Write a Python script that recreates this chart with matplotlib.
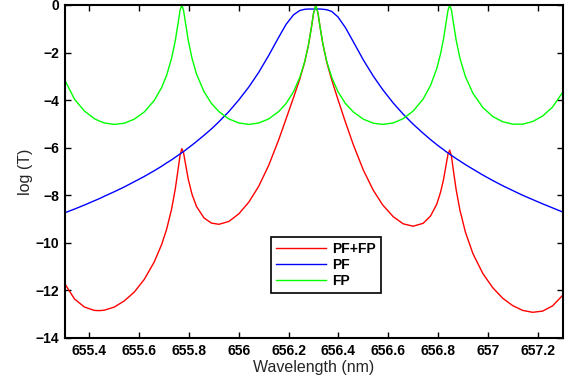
import matplotlib
matplotlib.use("Agg")
import matplotlib.pyplot as plt
from matplotlib.ticker import FixedLocator, FuncFormatter

plt.rcParams['font.family'] = ['Liberation Sans', 'DejaVu Sans']

wavelength = [655.30, 655.34, 655.38, 655.42, 655.44, 655.46, 655.50, 655.54, 655.58, 655.62,
              655.66, 655.69, 655.71, 655.73, 655.745, 655.756, 655.764, 655.771, 655.778, 655.786,
              655.797, 655.812, 655.83, 655.86, 655.89, 655.92, 655.96, 656.00, 656.04, 656.08,
              656.12, 656.16, 656.19, 656.22, 656.245, 656.265, 656.28, 656.292, 656.30, 656.309,
              656.318, 656.326, 656.338, 656.353, 656.373, 656.398, 656.428, 656.46, 656.50, 656.54,
              656.578, 656.62, 656.66, 656.70, 656.74, 656.77, 656.795, 656.81, 656.822, 656.833,
              656.840, 656.847, 656.854, 656.862, 656.873, 656.888, 656.91, 656.94, 656.98, 657.02,
              657.06, 657.10, 657.14, 657.18, 657.22, 657.26, 657.30]

fp = [-3.13, -3.96, -4.46, -4.78, -4.88, -4.96, -5.02, -4.97, -4.80, -4.50,
      -4.02, -3.47, -2.96, -2.24, -1.49, -0.77, -0.22, 0.00, -0.22, -0.77,
      -1.49, -2.24, -2.90, -3.64, -4.14, -4.48, -4.79, -4.96, -5.02, -4.96,
      -4.79, -4.48, -4.14, -3.64, -3.04, -2.37, -1.66, -0.91, -0.35, 0.00,
      -0.35, -0.91, -1.66, -2.37, -3.04, -3.64, -4.14, -4.50, -4.80, -4.97,
      -5.02, -4.96, -4.78, -4.46, -3.96, -3.38, -2.67, -2.06, -1.43, -0.69,
      -0.22, 0.00, -0.22, -0.77, -1.49, -2.24, -3.01, -3.71, -4.31, -4.69,
      -4.91, -5.01, -5.01, -4.90, -4.67, -4.29, -3.68]

pf = [-8.74, -8.58, -8.41, -8.23, -8.14, -8.04, -7.85, -7.65, -7.43, -7.21,
      -6.97, -6.78, -6.64, -6.51, -6.40, -6.32, -6.26, -6.21, -6.16, -6.10,
      -6.01, -5.89, -5.74, -5.48, -5.21, -4.91, -4.48, -3.99, -3.45, -2.83,
      -2.12, -1.36, -0.81, -0.41, -0.23, -0.18, -0.17, -0.17, -0.17, -0.17,
      -0.17, -0.17, -0.18, -0.20, -0.27, -0.50, -0.95, -1.55, -2.31, -2.99,
      -3.56, -4.12, -4.59, -5.01, -5.39, -5.66, -5.87, -5.99, -6.08, -6.17,
      -6.22, -6.27, -6.32, -6.38, -6.46, -6.56, -6.71, -6.90, -7.15, -7.38,
      -7.60, -7.80, -8.00, -8.18, -8.36, -8.53, -8.70]

pf_fp = [-11.70, -12.36, -12.70, -12.84, -12.85, -12.83, -12.70, -12.44, -12.07, -11.54,
         -10.81, -10.07, -9.43, -8.58, -7.72, -6.92, -6.32, -6.04, -6.21, -6.69,
         -7.33, -7.96, -8.47, -8.95, -9.17, -9.22, -9.10, -8.78, -8.29, -7.62,
         -6.74, -5.67, -4.78, -3.88, -3.11, -2.38, -1.66, -0.91, -0.35, 0.00,
         -0.35, -0.91, -1.67, -2.40, -3.15, -3.97, -4.92, -5.88, -6.94, -7.79,
         -8.41, -8.90, -9.20, -9.30, -9.18, -8.87, -8.37, -7.88, -7.34, -6.69,
         -6.27, -6.10, -6.37, -6.98, -7.78, -8.63, -9.55, -10.45, -11.29, -11.89,
         -12.33, -12.64, -12.84, -12.92, -12.87, -12.65, -12.21]

x_ticks = [655.4, 655.6, 655.8, 656.0, 656.2, 656.4, 656.6, 656.8, 657.0, 657.2]
y_ticks = [0, -2, -4, -6, -8, -10, -12, -14]
series_labels = ['PF+FP', 'PF', 'FP']

fig = plt.figure(figsize=(5.7, 3.84), dpi=100)
ax = fig.add_axes([0.1132, 0.1198, 0.8737, 0.8672])

ax.plot(wavelength, pf_fp, color=(1, 0, 0), lw=1.0, label=series_labels[0])
ax.plot(wavelength, pf, color=(0, 0, 1), lw=1.0, label=series_labels[1])
ax.plot(wavelength, fp, color=(0, 1, 0), lw=1.0, label=series_labels[2])

ax.set_xlim(655.3, 657.3)
ax.set_ylim(-14, 0)
ax.xaxis.set_major_locator(FixedLocator(x_ticks))
ax.yaxis.set_major_locator(FixedLocator(y_ticks))
ax.xaxis.set_major_formatter(FuncFormatter(lambda v, p: f"{v:g}"))
ax.yaxis.set_major_formatter(FuncFormatter(lambda v, p: f"{v:g}".replace('-', '\u2212')))

ax.tick_params(direction='in', length=4, width=1.0, top=True, right=True,
               labelsize=10, pad=4, colors='black')
for lab in ax.get_xticklabels() + ax.get_yticklabels():
    lab.set_fontweight('bold')
for sp in ax.spines.values():
    sp.set_linewidth(1.5)
    sp.set_color('black')

ax.set_xlabel('Wavelength (nm)', fontsize=11.5, color='#262626', labelpad=2)
ax.set_ylabel('log (T)', fontsize=11.5, color='#262626', labelpad=2)

leg = ax.legend(loc='upper left', bbox_to_anchor=(0.414, 0.304), borderaxespad=0,
                fancybox=False, edgecolor='black', framealpha=1,
                prop={'weight': 'bold', 'size': 10}, handlelength=3.6,
                labelspacing=0.15, borderpad=0.35, handletextpad=0.5)
leg.get_frame().set_linewidth(1.2)

fig.savefig('out.png', dpi=100)
